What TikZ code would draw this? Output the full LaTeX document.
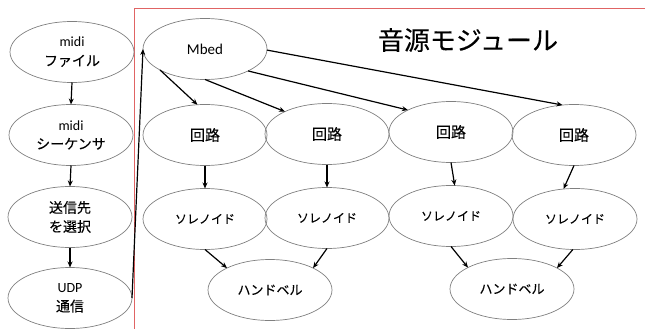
\documentclass[tikz,border=0pt]{standalone}
\usepackage{fontspec}
\setmainfont{Carlito}
\newfontfamily\jp[FakeBold=0.12]{Noto Sans CJK JP}
\usetikzlibrary{shapes.geometric,arrows.meta}
\definecolor{redline}{RGB}{224,100,100}
\definecolor{ellgray}{RGB}{128,128,128}
\tikzset{
  ell/.style={ellipse,draw=ellgray,line width=0.7pt,inner sep=0pt,outer sep=0pt,
    minimum width=124pt,minimum height=61pt,align=center,text=black,
    font=\fontsize{14}{19}\selectfont},
  arr/.style={line width=1.2pt,-{Stealth[length=6pt,width=5pt]}},
}
\begin{document}
\begin{tikzpicture}[x=1pt,y=-1pt]
\useasboundingbox (0,0) rectangle (645,329);
% red frame
\draw[redline,line width=0.9pt] (134,340) -- (134,8.5) -- (660,8.5);
% title
\node (title) at (468,40) {\jp\fontsize{26}{26}\selectfont 音源モジュール};
% left column
\node[ell] (f) at (72,52) {midi\\\jp ファイル};
\node[ell] (q) at (71,135) {midi\\\jp シーケンサ};
\node[ell] (d) at (70,217) {\jp 送信先\\\jp を選択};
\node[ell] (u) at (70,298) {UDP\\\jp 通信};
% module
\node[ell,font=\fontsize{15}{19}\selectfont] (m) at (205,49) {Mbed};
\node[ell,font=\fontsize{15}{19}\selectfont\jp] (r1) at (205,135) {回路};
\node[ell,font=\fontsize{15}{19}\selectfont\jp] (r2) at (327,134) {回路};
\node[ell,font=\fontsize{15}{19}\selectfont\jp] (r3) at (451,132) {回路};
\node[ell,font=\fontsize{15}{19}\selectfont\jp] (r4) at (574,135) {回路};
\node[ell,font=\fontsize{12}{19}\selectfont\jp] (s1) at (205,219) {ソレノイド};
\node[ell,font=\fontsize{12}{19}\selectfont\jp] (s2) at (327,218) {ソレノイド};
\node[ell,font=\fontsize{12}{19}\selectfont\jp] (s3) at (451,216) {ソレノイド};
\node[ell,font=\fontsize{12}{19}\selectfont\jp] (s4) at (575,219) {ソレノイド};
\node[ell,font=\fontsize{13}{19}\selectfont\jp] (h1) at (270,290) {ハンドベル};
\node[ell,font=\fontsize{13}{19}\selectfont\jp] (h2) at (512,289) {ハンドベル};
% arrows left column
\draw[arr] (f.south) -- (q.north);
\draw[arr] (q.south) -- (d.north);
\draw[arr] (d.south) -- (u.north);
\draw[arr] (u.east) -- (m.180);
% Mbed to circuits
\draw[arr] (m.205) -- (r1.104);
\draw[arr] (m.270) -- (r2.152);
\draw[arr] (m.333) -- (r3.153);
\draw[arr] (m.359) -- (r4.111);
% circuits to solenoids
\draw[arr] (r1.south) -- (s1.north);
\draw[arr] (r2.south) -- (s2.north);
\draw[arr] (r3.270) -- (s3.83);
\draw[arr] (r4.270) -- (s4.111);
% solenoids to handbells
\draw[arr] (s1.270) -- (h1.153);
\draw[arr] (s2.270) -- (h1.27);
\draw[arr] (s3.270) -- (h2.154);
\draw[arr] (s4.266) -- (h2.25);
\end{tikzpicture}
\end{document}
